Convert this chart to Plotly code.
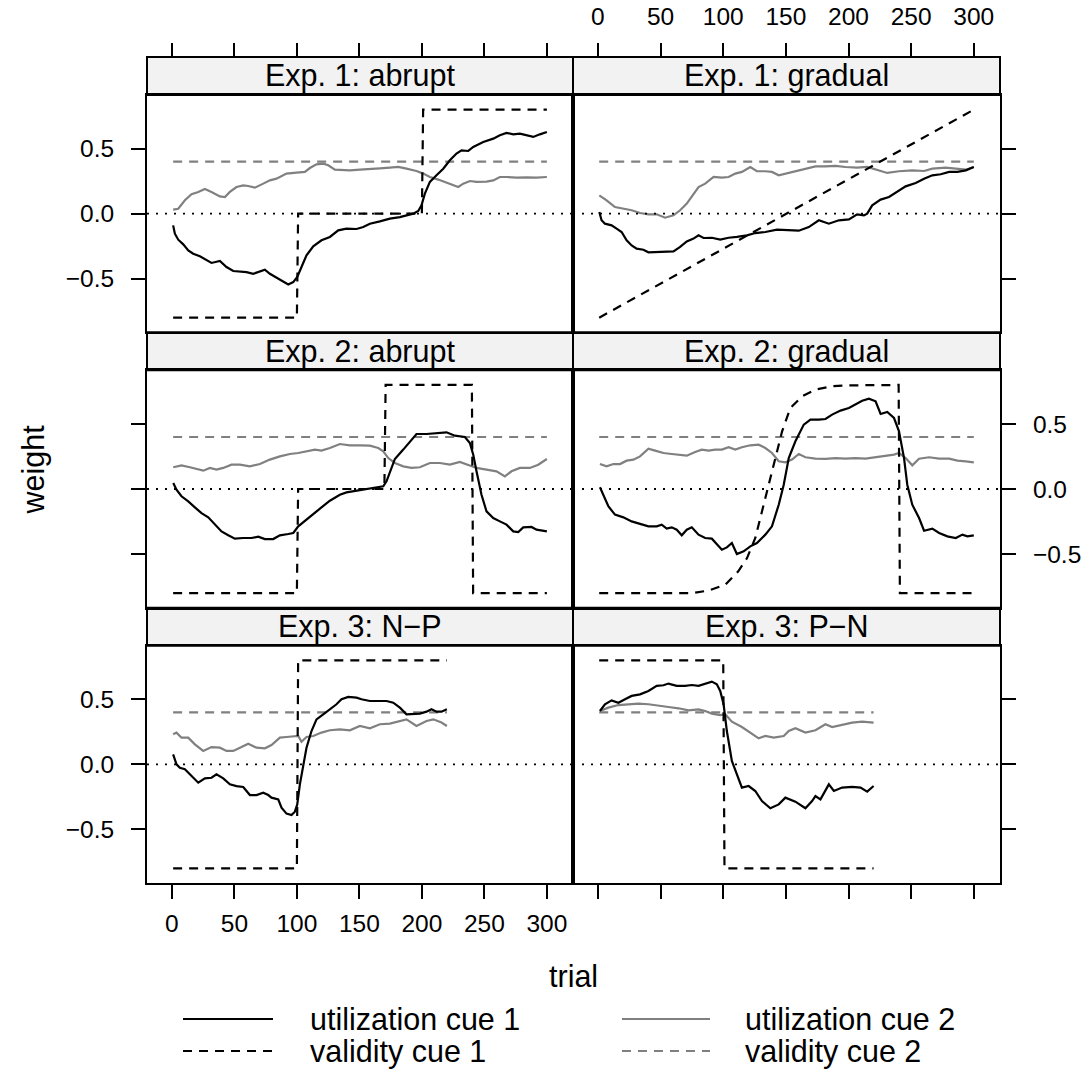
import plotly.graph_objects as go

W, H = 1089, 1070
FONT = "Liberation Sans"
GREY = "#808080"

# ---------------- data ----------------
panel_titles = ["Exp. 1: abrupt", "Exp. 1: gradual",
                "Exp. 2: abrupt", "Exp. 2: gradual",
                "Exp. 3: N\u2212P", "Exp. 3: P\u2212N"]

trial_ticks = [0, 50, 100, 150, 200, 250, 300]
weight_ticks = [-0.5, 0.0, 0.5]
weight_tick_labels = ["\u22120.5", "0.0", "0.5"]

# Exp. 1: abrupt
e1a_val1_t = [1, 100, 101, 200, 201, 300]
e1a_val1 = [-0.8, -0.8, 0.0, 0.0, 0.8, 0.8]
e1a_val2_t = [1, 300]
e1a_val2 = [0.4, 0.4]
e1a_u1_t = [1, 2.4, 5.1, 9.1, 13.1, 17.1, 22.4, 27.7, 31.7, 38.4, 43.7, 49.1, 54.4, 59.7, 65.1, 70.4,
            74.4, 78.4, 83.7, 89.1, 93.1, 97.1, 100.3, 103.7, 107.7, 113.1, 119.7, 126.4, 133.1,
            139.7, 147.7, 153.1, 158.4, 166.4, 174.4, 182.4, 187.7, 193.1, 197.1, 199.7, 202.4,
            206.4, 211.7, 217.1, 222.4, 227.7, 231.7, 237.1, 241.1, 249.1, 257.1, 262.4, 267.7,
            273.1, 278.4, 283.7, 289.1, 294.4, 300]
e1a_u1 = [-0.09, -0.154, -0.2, -0.236, -0.282, -0.308, -0.328, -0.359, -0.379, -0.364, -0.41,
          -0.441, -0.444, -0.449, -0.462, -0.441, -0.431, -0.462, -0.492, -0.526, -0.544, -0.526,
          -0.487, -0.41, -0.321, -0.251, -0.205, -0.179, -0.128, -0.115, -0.118, -0.103, -0.077,
          -0.059, -0.038, -0.026, -0.015, 0.0, 0.021, 0.064, 0.154, 0.244, 0.295, 0.346, 0.41,
          0.462, 0.487, 0.482, 0.513, 0.551, 0.577, 0.603, 0.621, 0.61, 0.615, 0.6, 0.59, 0.61,
          0.628]
e1a_u2_t = [1, 5.1, 10.4, 15.7, 21.1, 26.4, 31.7, 38.4, 42.4, 46.4, 51.7, 57.1, 61.1, 66.4, 73.1,
            78.4, 83.7, 91.7, 99.7, 106.4, 110.4, 115.7, 121.1, 125.1, 130.4, 137.1, 142.4, 150.4,
            158.4, 166.4, 174.4, 181.1, 187.7, 195.7, 201.1, 206.4, 213.1, 218.4, 223.7, 229.1,
            233.1, 238.4, 243.7, 251.7, 257.1, 262.4, 267.7, 275.7, 283.7, 291.7, 300]
e1a_u2 = [0.031, 0.038, 0.103, 0.149, 0.167, 0.19, 0.167, 0.133, 0.128, 0.167, 0.205, 0.218,
          0.213, 0.2, 0.231, 0.256, 0.269, 0.308, 0.315, 0.321, 0.351, 0.379, 0.385, 0.372, 0.338,
          0.333, 0.333, 0.338, 0.346, 0.349, 0.354, 0.359, 0.346, 0.328, 0.308, 0.282, 0.262,
          0.244, 0.226, 0.205, 0.231, 0.251, 0.244, 0.246, 0.256, 0.282, 0.282, 0.277, 0.279,
          0.277, 0.282]

# Exp. 1: gradual
e1g_val1_t = [1, 300]
e1g_val1 = [-0.8, 0.8]
e1g_val2_t = [1, 300]
e1g_val2 = [0.4, 0.4]
e1g_u1_t = [1.1, 2.9, 5.6, 10.9, 14.9, 18.9, 22.9, 26.9, 30.9, 36.3, 40.3, 48.3, 53.6, 60.3, 65.6,
            70.9, 76.3, 80.3, 84.3, 90.9, 97.6, 104.3, 110.9, 118.9, 125.6, 133.6, 142.9, 149.6,
            160.3, 168.3, 176.3, 184.3, 192.3, 200.3, 206.9, 212.3, 214.9, 218.9, 225.6, 232.3,
            238.9, 245.6, 253.6, 260.3, 266.9, 273.6, 280.3, 286.9, 293.6, 300]
e1g_u1 = [0.013, -0.051, -0.077, -0.09, -0.115, -0.141, -0.205, -0.244, -0.269, -0.277, -0.297,
          -0.295, -0.295, -0.29, -0.256, -0.213, -0.192, -0.167, -0.187, -0.185, -0.2, -0.185,
          -0.179, -0.167, -0.149, -0.141, -0.123, -0.128, -0.131, -0.103, -0.051, -0.077, -0.051,
          -0.044, -0.005, -0.013, 0.0, 0.064, 0.108, 0.128, 0.167, 0.21, 0.236, 0.269, 0.295,
          0.303, 0.321, 0.321, 0.333, 0.359]
e1g_u2_t = [1.1, 6.9, 13.6, 20.3, 26.9, 33.6, 40.3, 46.9, 53.6, 60.3, 65.6, 70.9, 76.3, 80.3, 85.6,
            92.3, 98.9, 104.3, 109.6, 114.9, 121.6, 126.9, 133.6, 138.9, 144.3, 149.6, 156.3,
            165.6, 173.6, 181.6, 189.6, 197.6, 206.9, 214.9, 222.9, 230.9, 240.3, 250.9, 260.3,
            266.9, 277.6, 288.3, 293.6, 300]
e1g_u2 = [0.141, 0.103, 0.051, 0.038, 0.026, 0.005, -0.005, -0.005, -0.031, -0.013, 0.026, 0.077,
          0.154, 0.205, 0.231, 0.282, 0.277, 0.282, 0.308, 0.321, 0.359, 0.326, 0.326, 0.321,
          0.295, 0.308, 0.321, 0.346, 0.364, 0.364, 0.367, 0.359, 0.354, 0.359, 0.333, 0.313,
          0.326, 0.333, 0.328, 0.346, 0.354, 0.346, 0.338, 0.359]

# Exp. 2: abrupt
e2a_val1_t = [1, 100, 101, 170, 171, 240, 241, 300]
e2a_val1 = [-0.8, -0.8, 0.0, 0.0, 0.8, 0.8, -0.8, -0.8]
e2a_val2_t = [1, 300]
e2a_val2 = [0.4, 0.4]
e2a_u1_t = [1.1, 3.7, 7.7, 13.1, 18.4, 23.7, 29.1, 34.4, 39.7, 45.1, 50.4, 57.1, 63.7, 69.1, 74.4,
            81.1, 86.4, 93.1, 97.1, 101.1, 106.4, 113.1, 119.7, 126.4, 134.4, 139.7, 147.7, 155.7,
            163.7, 169.1, 171.7, 175.7, 178.4, 185.1, 190.4, 195.7, 203.7, 211.7, 219.7, 226.4,
            234.4, 238.4, 241.1, 243.7, 247.7, 251.7, 257.1, 262.4, 267.7, 273.1, 277.1, 281.1,
            287.7, 291.7, 300]
e2a_u1 = [0.046, -0.005, -0.056, -0.095, -0.141, -0.185, -0.218, -0.274, -0.326, -0.356, -0.382,
          -0.377, -0.377, -0.367, -0.385, -0.385, -0.356, -0.346, -0.338, -0.287, -0.244, -0.192,
          -0.141, -0.09, -0.044, -0.026, -0.013, -0.005, 0.008, 0.021, 0.059, 0.162, 0.231, 0.303,
          0.367, 0.423, 0.423, 0.431, 0.436, 0.41, 0.4, 0.354, 0.264, 0.136, -0.044, -0.172,
          -0.223, -0.249, -0.274, -0.326, -0.331, -0.295, -0.292, -0.313, -0.326]
e2a_u2_t = [1.1, 7.7, 14.4, 19.7, 25.1, 30.4, 35.7, 41.1, 47.7, 54.4, 62.4, 70.4, 78.4, 86.4, 94.4,
            101.1, 107.7, 114.4, 119.7, 126.4, 134.4, 142.4, 150.4, 158.4, 165.1, 169.1, 173.1,
            178.4, 185.1, 191.7, 198.4, 206.4, 214.4, 222.4, 230.4, 237.1, 243.7, 251.7, 259.7,
            266.4, 271.7, 278.4, 286.4, 293.1, 300]
e2a_u2 = [0.167, 0.182, 0.167, 0.156, 0.141, 0.162, 0.149, 0.162, 0.187, 0.187, 0.174, 0.192,
          0.226, 0.251, 0.269, 0.277, 0.29, 0.303, 0.295, 0.315, 0.346, 0.336, 0.336, 0.333,
          0.315, 0.29, 0.238, 0.2, 0.174, 0.162, 0.167, 0.2, 0.2, 0.187, 0.208, 0.182, 0.162,
          0.149, 0.136, 0.097, 0.136, 0.162, 0.162, 0.187, 0.231]

# Exp. 2: gradual
e2g_val1_t = [1, 75, 88, 101.6, 112, 119, 125.6, 131, 136, 141.6, 147, 153.6, 163, 173.6, 187,
              200, 240, 241, 300]
e2g_val1 = [-0.8, -0.8, -0.782, -0.736, -0.633, -0.531, -0.377, -0.172, 0.033, 0.238, 0.444,
            0.623, 0.713, 0.764, 0.79, 0.797, 0.8, -0.8, -0.8]
e2g_val2_t = [1, 300]
e2g_val2 = [0.4, 0.4]
e2g_u1_t = [1.6, 4.3, 8.3, 13.6, 20.3, 26.9, 33.6, 40.3, 46.9, 50.9, 54.9, 58.9, 62.9, 66.9, 70.9,
            74.9, 80.3, 85.6, 90.9, 94.9, 98.9, 102.9, 106.9, 110.9, 116.3, 121.6, 126.9, 133.6,
            138.9, 144.3, 148.3, 152.3, 157.6, 164.3, 169.6, 176.3, 181.6, 186.9, 193.6, 200.3,
            205.6, 210.9, 216.3, 221.6, 225.6, 230.9, 236.3, 240.3, 244.3, 246.9, 250.9, 256.3,
            260.3, 266.9, 272.3, 278.9, 285.6, 290.9, 294.9, 300]
e2g_u1 = [0.013, -0.044, -0.133, -0.197, -0.218, -0.249, -0.269, -0.287, -0.287, -0.274, -0.305,
          -0.295, -0.313, -0.356, -0.313, -0.295, -0.351, -0.377, -0.382, -0.428, -0.467, -0.449,
          -0.415, -0.5, -0.479, -0.441, -0.415, -0.351, -0.287, -0.121, 0.033, 0.238, 0.367,
          0.495, 0.533, 0.533, 0.538, 0.572, 0.603, 0.623, 0.649, 0.679, 0.695, 0.674, 0.577,
          0.592, 0.546, 0.444, 0.238, 0.033, -0.121, -0.223, -0.321, -0.305, -0.338, -0.364,
          -0.377, -0.351, -0.364, -0.356]
e2g_u2_t = [1.6, 6.9, 12.3, 17.6, 22.9, 28.3, 33.6, 40.3, 45.6, 52.3, 58.9, 65.6, 70.9, 77.6,
            82.9, 88.3, 93.6, 98.9, 104.3, 109.6, 114.9, 121.6, 128.3, 133.6, 138.9, 144.3, 149.6,
            154.9, 160.3, 165.6, 173.6, 181.6, 189.6, 197.6, 205.6, 213.6, 221.6, 229.6, 236.3,
            240.3, 245.6, 250.9, 256.3, 264.3, 272.3, 280.3, 286.9, 293.6, 300]
e2g_u2 = [0.192, 0.174, 0.192, 0.192, 0.218, 0.226, 0.251, 0.31, 0.295, 0.277, 0.269, 0.259,
          0.256, 0.285, 0.303, 0.295, 0.303, 0.303, 0.321, 0.303, 0.321, 0.336, 0.341, 0.315,
          0.277, 0.213, 0.205, 0.226, 0.269, 0.244, 0.233, 0.231, 0.238, 0.233, 0.238, 0.233,
          0.244, 0.259, 0.264, 0.277, 0.238, 0.182, 0.233, 0.244, 0.233, 0.233, 0.218, 0.213,
          0.205]

# Exp. 3: N-P
e3np_val1_t = [1, 100, 101, 220]
e3np_val1 = [-0.8, -0.8, 0.8, 0.8]
e3np_val2_t = [1, 220]
e3np_val2 = [0.4, 0.4]
e3np_u1_t = [1, 3.7, 6.4, 10.4, 14.4, 21.1, 26.4, 31.7, 35.7, 41.1, 46.4, 51.7, 57.1, 62.4, 67.7,
             73.1, 77.1, 79.7, 85.1, 87.7, 91.7, 95.7, 98.4, 100.3, 102.4, 105.1, 107.7, 111.7,
             115.7, 121.1, 126.4, 131.7, 135.7, 141.1, 147.7, 151.7, 158.4, 165.1, 171.7, 177.1,
             182.4, 187.7, 193.1, 198.4, 203.7, 207.7, 211.7, 215.7, 220]
e3np_u1 = [0.077, 0.0, -0.026, -0.038, -0.077, -0.141, -0.108, -0.103, -0.077, -0.108, -0.154,
           -0.167, -0.174, -0.236, -0.236, -0.218, -0.236, -0.256, -0.269, -0.333, -0.379, -0.39,
           -0.364, -0.308, -0.154, 0.0, 0.128, 0.256, 0.346, 0.385, 0.423, 0.462, 0.5, 0.518,
           0.513, 0.5, 0.487, 0.487, 0.487, 0.474, 0.436, 0.385, 0.385, 0.39, 0.405, 0.423, 0.405,
           0.405, 0.423]
e3np_u2_t = [1, 3.7, 7.7, 13.1, 18.4, 25.1, 31.7, 38.4, 43.7, 49.1, 55.7, 61.1, 67.7, 74.4, 79.7,
             86.4, 91.7, 97.1, 101.1, 103.7, 107.7, 113.1, 119.7, 126.4, 134.4, 142.4, 150.4,
             158.4, 166.4, 174.4, 182.4, 187.7, 195.7, 203.7, 209.1, 215.7, 220]
e3np_u2 = [0.231, 0.244, 0.205, 0.205, 0.154, 0.103, 0.133, 0.128, 0.103, 0.103, 0.133, 0.159,
           0.128, 0.123, 0.149, 0.205, 0.21, 0.215, 0.218, 0.174, 0.21, 0.218, 0.244, 0.262,
           0.269, 0.262, 0.295, 0.277, 0.308, 0.313, 0.333, 0.346, 0.295, 0.333, 0.346, 0.321,
           0.295]

# Exp. 3: P-N
e3pn_val1_t = [1, 100, 101, 220]
e3pn_val1 = [0.8, 0.8, -0.8, -0.8]
e3pn_val2_t = [1, 220]
e3pn_val2 = [0.4, 0.4]
e3pn_u1_t = [1.6, 5.6, 10.9, 16.3, 21.6, 26.9, 33.6, 40.3, 46.9, 52.3, 56.3, 62.9, 69.6, 74.9,
             80.3, 85.6, 90.9, 94.9, 97.6, 100.3, 102.9, 106.9, 110.9, 114.9, 120.3, 125.6, 130.9,
             137.6, 144.3, 149.6, 157.6, 165.6, 170.9, 173.6, 177.6, 184.3, 188.3, 194.9, 202.9,
             209.6, 214.9, 220]
e3pn_u1 = [0.41, 0.462, 0.492, 0.474, 0.5, 0.526, 0.538, 0.564, 0.603, 0.608, 0.621, 0.603, 0.603,
           0.61, 0.603, 0.621, 0.636, 0.615, 0.564, 0.462, 0.256, 0.026, -0.077, -0.179, -0.167,
           -0.205, -0.282, -0.338, -0.308, -0.256, -0.287, -0.338, -0.282, -0.244, -0.269,
           -0.154, -0.205, -0.179, -0.174, -0.179, -0.21, -0.167]
e3pn_u2_t = [1.6, 8.3, 16.3, 24.3, 32.3, 40.3, 48.3, 56.3, 64.3, 72.3, 80.3, 85.6, 90.9, 97.6,
             101.6, 106.9, 114.9, 121.6, 128.3, 133.6, 140.3, 148.3, 152.3, 157.6, 165.6, 173.6,
             181.6, 186.9, 194.9, 202.9, 210.9, 220]
e3pn_u2 = [0.41, 0.436, 0.456, 0.462, 0.467, 0.462, 0.449, 0.441, 0.431, 0.415, 0.423, 0.41,
           0.39, 0.379, 0.385, 0.328, 0.287, 0.244, 0.2, 0.218, 0.205, 0.218, 0.256, 0.277,
           0.244, 0.262, 0.308, 0.287, 0.303, 0.321, 0.328, 0.321]

panel_series = [
    (e1a_val1_t, e1a_val1, e1a_val2_t, e1a_val2, e1a_u1_t, e1a_u1, e1a_u2_t, e1a_u2),
    (e1g_val1_t, e1g_val1, e1g_val2_t, e1g_val2, e1g_u1_t, e1g_u1, e1g_u2_t, e1g_u2),
    (e2a_val1_t, e2a_val1, e2a_val2_t, e2a_val2, e2a_u1_t, e2a_u1, e2a_u2_t, e2a_u2),
    (e2g_val1_t, e2g_val1, e2g_val2_t, e2g_val2, e2g_u1_t, e2g_u1, e2g_u2_t, e2g_u2),
    (e3np_val1_t, e3np_val1, e3np_val2_t, e3np_val2, e3np_u1_t, e3np_u1, e3np_u2_t, e3np_u2),
    (e3pn_val1_t, e3pn_val1, e3pn_val2_t, e3pn_val2, e3pn_u1_t, e3pn_u1, e3pn_u2_t, e3pn_u2),
]

legend_labels = ["utilization cue 1", "validity cue 1", "utilization cue 2", "validity cue 2"]

# ---------------- layout geometry (pixels) ----------------
X_RANGE = [-19.9, 320.9]
Y_RANGE = [-0.9125, 0.9125]
COL_EDGES = [(147, 573), (573, 1000)]
TOP, BOTTOM = 57, 883
ROW_H = (BOTTOM - TOP) / 3
STRIP_H = 38
LW = 2.2
DASH = "9px,7px"
TICK_SIZE = 24.5
TEXT_SIZE = 30.5


def px_x(v):
    return v / W


def px_y(v):
    return 1 - v / H


fig = go.Figure()
shapes, annotations = [], []
layout = {}

for i, title in enumerate(panel_titles):
    row, col = divmod(i, 2)
    n = i + 1
    xs = "" if n == 1 else str(n)
    x0p, x1p = COL_EDGES[col]
    strip_top = TOP + row * ROW_H
    strip_bot = strip_top + STRIP_H
    panel_bot = strip_top + ROW_H

    layout["xaxis" + xs] = dict(
        domain=[px_x(x0p), px_x(x1p)], range=X_RANGE, anchor="y" + xs,
        showline=True, mirror=True, linecolor="black", linewidth=2,
        showgrid=False, zeroline=False,
        tickvals=trial_ticks, ticks="outside" if row == 2 else "",
        ticklen=14, tickwidth=1.5, tickcolor="black",
        showticklabels=(row == 2 and col == 0), ticklabelstandoff=4,
        tickfont=dict(family=FONT, size=TICK_SIZE, color="black"),
    )
    layout["yaxis" + xs] = dict(
        domain=[px_y(panel_bot), px_y(strip_bot)], range=Y_RANGE, anchor="x" + xs,
        side="left" if col == 0 else "right",
        showline=True, mirror=True, linecolor="black", linewidth=2,
        showgrid=False, zeroline=False,
        tickvals=weight_ticks, ticktext=weight_tick_labels,
        ticks="outside", ticklen=14, tickwidth=1.5, tickcolor="black",
        showticklabels=(col == 0 and row != 1) or (col == 1 and row == 1),
        ticklabelstandoff=12,
        tickfont=dict(family=FONT, size=TICK_SIZE, color="black"),
    )

    # strip
    shapes.append(dict(type="rect", xref="paper", yref="paper",
                       x0=px_x(x0p), x1=px_x(x1p), y0=px_y(strip_bot), y1=px_y(strip_top),
                       fillcolor="#F2F2F2", line=dict(color="black", width=2), layer="below"))
    annotations.append(dict(xref="paper", yref="paper", x=px_x((x0p + x1p) / 2),
                            y=px_y((strip_top + strip_bot) / 2), text=title, showarrow=False,
                            xanchor="center", yanchor="middle",
                            font=dict(family=FONT, size=TEXT_SIZE, color="black")))

    # reference line at zero
    shapes.append(dict(type="line", xref="x" + xs + " domain", yref="y" + xs,
                       x0=0, x1=1, y0=0, y1=0,
                       line=dict(color="black", width=1.8, dash="2px,7px")))

    v1t, v1, v2t, v2, u1t, u1, u2t, u2 = panel_series[i]
    common = dict(xaxis="x" + xs, yaxis="y" + xs, mode="lines", showlegend=False,
                  hoverinfo="skip")
    fig.add_trace(go.Scatter(x=v2t, y=v2, line=dict(color=GREY, width=LW, dash=DASH), **common))
    fig.add_trace(go.Scatter(x=u2t, y=u2, line=dict(color=GREY, width=LW), **common))
    fig.add_trace(go.Scatter(x=v1t, y=v1, line=dict(color="black", width=LW, dash=DASH), **common))
    fig.add_trace(go.Scatter(x=u1t, y=u1, line=dict(color="black", width=LW), **common))

# top tick axes sitting above the first-row strips
for k, base in enumerate(["x", "x2"]):
    layout["xaxis" + str(7 + k)] = dict(
        overlaying=base, anchor="free", position=px_y(TOP), side="top",
        range=X_RANGE, tickvals=trial_ticks, ticks="outside", ticklen=14,
        tickwidth=1.5, tickcolor="black", showline=False, showgrid=False, zeroline=False,
        showticklabels=(k == 1), ticklabelstandoff=8,
        tickfont=dict(family=FONT, size=TICK_SIZE, color="black"),
    )
# empty traces so the top axes are drawn
fig.add_trace(go.Scatter(x=[None], y=[None], xaxis="x7", yaxis="y", showlegend=False))
fig.add_trace(go.Scatter(x=[None], y=[None], xaxis="x8", yaxis="y2", showlegend=False))

# axis titles
annotations.append(dict(xref="paper", yref="paper", x=px_x(573.5), y=px_y(995), text="trial",
                        showarrow=False, font=dict(family=FONT, size=TEXT_SIZE, color="black")))
annotations.append(dict(xref="paper", yref="paper", x=px_x(14), y=px_y(470), text="weight",
                        textangle=-90, showarrow=False,
                        font=dict(family=FONT, size=TEXT_SIZE, color="black")))

# key
key_rows = [1019, 1051]
key_cols = [(183, 273, 308), (622, 710, 743)]
key_styles = [("black", None), ("black", DASH), (GREY, None), (GREY, DASH)]
for j, label in enumerate(legend_labels):
    c, r = divmod(j, 2)
    lx0, lx1, tx = key_cols[c]
    yy = key_rows[r]
    color, dash = key_styles[j]
    ln = dict(color=color, width=LW)
    if dash:
        ln["dash"] = dash
    shapes.append(dict(type="line", xref="paper", yref="paper", x0=px_x(lx0), x1=px_x(lx1),
                       y0=px_y(yy), y1=px_y(yy), line=ln))
    annotations.append(dict(xref="paper", yref="paper", x=px_x(tx), y=px_y(yy), text=label,
                            showarrow=False, xanchor="left", yanchor="middle",
                            font=dict(family=FONT, size=TEXT_SIZE, color="black")))

fig.update_layout(
    width=W, height=H, autosize=False,
    margin=dict(l=0, r=0, t=0, b=0, pad=0),
    paper_bgcolor="white", plot_bgcolor="white",
    font=dict(family=FONT, color="black"),
    shapes=shapes, annotations=annotations,
    **layout,
)

fig.write_html("out.html")
